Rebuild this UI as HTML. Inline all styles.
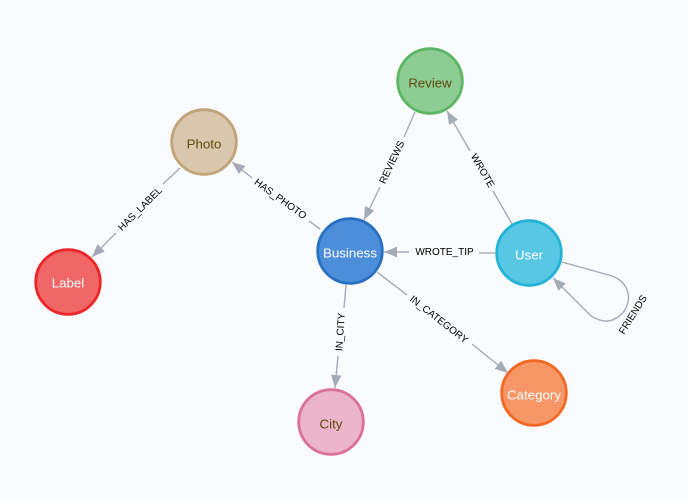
<!DOCTYPE html>
<html><head><meta charset="utf-8">
<style>
html,body{margin:0;padding:0;background:#f9fbfd}
svg{display:block}
text{font-family:"Liberation Sans",Arial,sans-serif}
.e{fill:none;stroke:#a5abb6;stroke-width:1.4}
.l{font-size:10px;fill:#000;text-anchor:middle;dominant-baseline:central}
.n{font-size:13.3px;text-anchor:middle;dominant-baseline:central}
.w{fill:#fff}.d{fill:#604a0e}
circle{stroke-width:2.8}
</style></head><body>
<svg width="688" height="500" viewBox="0 0 688 500" xmlns="http://www.w3.org/2000/svg">
<defs><marker id="a" markerUnits="userSpaceOnUse" markerWidth="15" markerHeight="13" refX="13" refY="6.5" orient="auto"><path d="M0,1.3 L13,6.5 L0,11.7 Z" fill="#a5abb6"/></marker></defs>
<rect width="688" height="500" fill="#f9fbfd"/>

<!-- HAS_LABEL -->
<path class="e" d="M180,168 L163,184"/>
<path class="e" d="M116,233 L92,257" marker-end="url(#a)"/>
<text class="l" transform="translate(140.5,209.5) rotate(-45)">HAS_LABEL</text>

<!-- HAS_PHOTO -->
<path class="e" d="M320,229 L309,221"/>
<path class="e" d="M252,178 L232,162" marker-end="url(#a)"/>
<text class="l" transform="translate(280,199.5) rotate(36)">HAS_PHOTO</text>

<!-- REVIEWS -->
<path class="e" d="M415,112 L404,137"/>
<path class="e" d="M380,187 L364,220" marker-end="url(#a)"/>
<text class="l" transform="translate(392.5,162.5) rotate(-65)">REVIEWS</text>

<!-- WROTE -->
<path class="e" d="M512,224 L493,191"/>
<path class="e" d="M470,151 L447,111" marker-end="url(#a)"/>
<text class="l" transform="translate(482,171) rotate(60)">WROTE</text>

<!-- WROTE_TIP -->
<path class="e" d="M495,253 L479,253"/>
<path class="e" d="M409,252 L384,252" marker-end="url(#a)"/>
<text class="l" transform="translate(444.5,252.5)">WROTE_TIP</text>

<!-- IN_CITY -->
<path class="e" d="M346,285 L344,308"/>
<path class="e" d="M338,356 L335,388" marker-end="url(#a)"/>
<text class="l" transform="translate(341,332) rotate(-86)">IN_CITY</text>

<!-- IN_CATEGORY -->
<path class="e" d="M377,272 L407,295"/>
<path class="e" d="M472,344 L508,373" marker-end="url(#a)"/>
<text class="l" transform="translate(438.5,320) rotate(38)">IN_CATEGORY</text>

<!-- FRIENDS -->
<path class="e" d="M562,262 L612,276 C626,281 630,293 628,302 C625,316 612,322 604,321 C598,320 593,318 589,314 L553,278" marker-end="url(#a)"/>
<text class="l" transform="translate(633.5,315) rotate(-58)">FRIENDS</text>

<!-- Nodes -->
<circle cx="430" cy="81" r="32.3" fill="#8dcc93" stroke="#5db665"/>
<text class="n d" x="430" y="83">Review</text>
<circle cx="204" cy="142" r="32.3" fill="#d9c8ae" stroke="#c0a378"/>
<text class="n d" x="204" y="144">Photo</text>
<circle cx="350" cy="251" r="32.3" fill="#4c8eda" stroke="#2870c2"/>
<text class="n w" x="350" y="253">Business</text>
<circle cx="529" cy="253" r="32.3" fill="#57c7e3" stroke="#23b3d7"/>
<text class="n w" x="529" y="255">User</text>
<circle cx="68" cy="282" r="32.3" fill="#f16667" stroke="#eb2728"/>
<text class="n w" x="68" y="283">Label</text>
<circle cx="331" cy="422" r="32.3" fill="#ecb5c9" stroke="#da7298"/>
<text class="n d" x="331" y="424">City</text>
<circle cx="534" cy="393" r="32.3" fill="#f79767" stroke="#f36924"/>
<text class="n w" x="534" y="395">Category</text>
</svg>
</body></html>
